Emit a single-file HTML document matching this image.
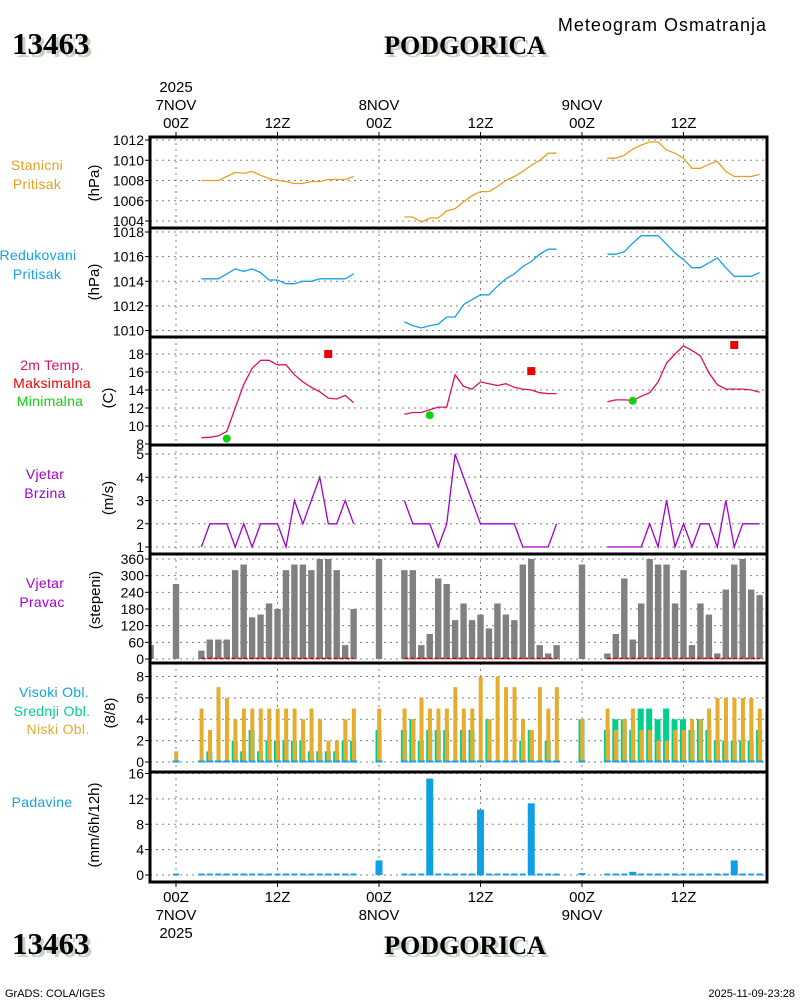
<!DOCTYPE html>
<html><head><meta charset="utf-8">
<style>
html,body{margin:0;padding:0;background:#fff;}
body{width:800px;height:1000px;overflow:hidden;position:relative;font-family:"Liberation Sans",sans-serif;}
svg{position:absolute;left:0;top:0;}
</style></head>
<body>
<svg id="chart" width="800" height="1000" viewBox="0 0 800 1000" xmlns="http://www.w3.org/2000/svg" font-family="Liberation Sans, sans-serif">
  <g>
    <text x="15" y="57" font-family="Liberation Serif, serif" font-weight="bold" font-size="31" fill="#c5d3c3">13463</text>
    <text x="12" y="54" font-family="Liberation Serif, serif" font-weight="bold" font-size="31" fill="#000">13463</text>
    <text x="468" y="57" text-anchor="middle" font-family="Liberation Serif, serif" font-weight="bold" font-size="26" fill="#c5d3c3">PODGORICA</text>
    <text x="465" y="54" text-anchor="middle" font-family="Liberation Serif, serif" font-weight="bold" font-size="26" fill="#000">PODGORICA</text>
    <text x="767" y="31" text-anchor="end" font-size="18" letter-spacing="1" fill="#000">Meteogram Osmatranja</text>
  </g>
  <g>
    <text x="15" y="957" font-family="Liberation Serif, serif" font-weight="bold" font-size="31" fill="#c5d3c3">13463</text>
    <text x="12" y="954" font-family="Liberation Serif, serif" font-weight="bold" font-size="31" fill="#000">13463</text>
    <text x="468" y="957" text-anchor="middle" font-family="Liberation Serif, serif" font-weight="bold" font-size="26" fill="#c5d3c3">PODGORICA</text>
    <text x="465" y="954" text-anchor="middle" font-family="Liberation Serif, serif" font-weight="bold" font-size="26" fill="#000">PODGORICA</text>
    <text x="5" y="997" font-size="11" fill="#000">GrADS: COLA/IGES</text>
    <text x="795" y="997" text-anchor="end" font-size="11" fill="#000">2025-11-09-23:28</text>
  </g>
  <g id="plots"></g>
</svg>
<script>
// ---- data ----
const obsHours = [3,4,5,6,7,8,9,10,11,12,13,14,15,16,17,18,19,20,21,
  27,28,29,30,31,32,33,34,35,36,37,38,39,40,41,42,43,44,45,
  51,52,53,54,55,56,57,58,59,60,61,62,63,64,65,66,67,68,69];
const stnPressure = [1008.0,1008.0,1008.0,1008.4,1008.8,1008.7,1008.9,1008.5,1008.2,1008.0,1007.9,1007.7,1007.7,1007.9,1007.9,1008.1,1008.1,1008.1,1008.4,
  1004.4,1004.4,1003.9,1004.3,1004.3,1005.0,1005.2,1005.9,1006.5,1006.9,1006.9,1007.4,1008.0,1008.4,1008.9,1009.5,1010.0,1010.7,1010.7,
  1010.2,1010.2,1010.5,1011.1,1011.5,1011.8,1011.8,1011.0,1010.7,1010.2,1009.2,1009.2,1009.6,1009.9,1008.9,1008.4,1008.4,1008.4,1008.6];
const redPressure = [1014.2,1014.2,1014.2,1014.6,1015.0,1014.8,1015.0,1014.7,1014.1,1014.1,1013.8,1013.8,1014.0,1014.0,1014.2,1014.2,1014.2,1014.2,1014.6,
  1010.7,1010.4,1010.2,1010.4,1010.5,1011.1,1011.1,1012.1,1012.5,1012.9,1012.9,1013.6,1014.2,1014.6,1015.2,1015.6,1016.2,1016.6,1016.6,
  1016.2,1016.2,1016.4,1017.1,1017.7,1017.7,1017.7,1017.0,1016.3,1015.75,1015.1,1015.1,1015.5,1015.9,1015.1,1014.4,1014.4,1014.4,1014.7];
const temp2m = [8.7,8.75,8.9,9.4,12.0,14.6,16.4,17.3,17.3,16.8,16.8,15.7,14.9,14.3,13.8,13.1,13.0,13.4,12.6,
  11.3,11.5,11.5,11.8,12.1,12.1,15.7,14.4,14.1,14.9,14.7,14.5,14.7,14.3,14.1,14.0,13.7,13.6,13.6,
  12.7,12.9,12.9,12.85,13.3,13.7,14.9,17.0,18.0,18.9,18.4,17.8,15.9,14.6,14.1,14.1,14.1,14.0,13.75];
const maxHours = [18, 42, 66];
const maxTemp = [18.0, 16.1, 19.0];
const minHours = [6, 30, 54];
const minTemp = [8.6, 11.2, 12.8];
const windSpeed = [1,2,2,2,1,2,1,2,2,2,1,3,2,3,4,2,2,3,2,
  3,2,2,2,1,2,5,4,3,2,2,2,2,2,1,1,1,1,2,
  1,1,1,1,1,2,1,3,1,2,1,2,2,1,3,1,2,2,2];
const windDir = [30,70,70,70,320,340,150,160,200,180,320,340,340,320,360,360,320,50,180,
  320,320,50,90,290,270,140,200,140,160,110,200,160,140,340,360,50,20,50,
  20,90,290,70,200,360,340,340,200,320,50,200,160,20,250,340,360,250,230];
const dirExtraHours = [-3,0,24,48];
const dirExtra = [50,270,360,340];
const lowCloud = [5,3,7,6,4,5,5,5,5,5,5,5,4,5,4,2,2,4,5,
  5,4,6,5,5,5,7,5,5,8,4,8,7,7,4,3,7,5,7,
  5,3,4,5,3,3,2,2,3,3,4,4,5,6,6,6,6,6,5];
const midCloud = [0,1,0,0,2,1,3,1,2,2,2,2,2,1,1,1,1,2,2,
  3,4,2,3,3,3,0,3,3,0,4,0,0,0,2,3,0,2,0,
  3,4,4,3,5,5,4,5,4,4,3,4,3,2,2,2,2,2,3];
const cloudExtraHours = [0,24,48];
const lowCloudExtra = [1,5,4];
const midCloudExtra = [0,3,4];
const precipHours = [24,30,36,42,48,54,66];
const precip = [2.3,15.2,10.3,11.3,0.3,0.5,2.3];
const pTicks1 = [1004,1006,1008,1010,1012];
const pTicks2 = [1010,1012,1014,1016,1018];
const tTicks = [8,10,12,14,16,18];
const wsTicks = [1,2,3,4,5];
const wdTicks = [0,60,120,180,240,300,360];
const clTicks = [0,2,4,6,8];
const prTicks = [0,4,8,12,16];
const gridHours = [0,12,24,36,48,60];

// ---- axes ----
const X0 = 150, X1 = 767;
function x(h){ return 176 + h*101.5/12; }
function lin(v0,y0,v1,y1){ return v => y0 + (v-v0)*(y1-y0)/(v1-v0); }
const panels = [
  {top:137,bot:228,y:lin(1012,140,1004,221),ticks:pTicks1,name:'station-pressure'},
  {top:228,bot:337,y:lin(1018,232,1010,330.5),ticks:pTicks2,name:'reduced-pressure'},
  {top:337,bot:445,y:lin(18,354,8,444),ticks:tTicks,name:'temperature'},
  {top:445,bot:554,y:lin(5,454,1,547),ticks:wsTicks,name:'wind-speed'},
  {top:554,bot:663,y:lin(360,559,0,659),ticks:wdTicks,name:'wind-direction'},
  {top:663,bot:772,y:lin(8,676.5,0,762),ticks:clTicks,name:'cloud-cover'},
  {top:772,bot:882,y:lin(16,773.5,0,875),ticks:prTicks,name:'precipitation'}
];
const NS='http://www.w3.org/2000/svg';
const root=document.getElementById('plots');
function mk(tag,attrs,parent){
  const e=document.createElementNS(NS,tag);
  for(const k in attrs) e.setAttribute(k,attrs[k]);
  (parent||root).appendChild(e); return e;
}
function txt(s,attrs,parent){ const e=mk('text',attrs,parent); e.textContent=s; return e; }

panels.forEach(p=>{
  const g=mk('g',{});
  
  
  p.g=g;
  gridHours.forEach(h=>{
    const l=mk('line',{x1:x(h),x2:x(h),y1:p.top,y2:p.bot,stroke:'#808080','stroke-width':1,'stroke-dasharray':'2,4'},g);
    
    
  });
  p.ticks.forEach(v=>{
    const yy=p.y(v);
    const l=mk('line',{x1:X0,x2:X1,y1:yy,y2:yy,stroke:'#808080','stroke-width':1,'stroke-dasharray':'2,4'},g);
    
    
    const tk=mk('line',{x1:X0-5,x2:X0,y1:yy,y2:yy,stroke:'#000','stroke-width':1},g);
    
    
    const t=txt(String(v),{x:X0-6,y:yy+5,'text-anchor':'end','font-size':14,fill:'#000'},g);
    
    
  });
});

function line(p,vals,color,name){
  let seg=[]; const segs=[];
  for(let i=0;i<obsHours.length;i++){
    if(i>0 && obsHours[i]-obsHours[i-1]>1){ segs.push(seg); seg=[]; }
    seg.push(x(obsHours[i]).toFixed(1)+','+p.y(vals[i]).toFixed(1));
  }
  segs.push(seg);
  segs.forEach(s=>{
    const pl=mk('polyline',{points:s.join(' '),fill:'none',stroke:color,'stroke-width':1.3},p.g);
    
    
  });
}
line(panels[0],stnPressure,'#e6a020','station-pressure-line');
line(panels[1],redPressure,'#16a0e6','reduced-pressure-line');
line(panels[2],temp2m,'#dc1060','temperature-line');
line(panels[3],windSpeed,'#a000d0','wind-speed-line');

maxHours.forEach((h,i)=>{
  const r=mk('rect',{x:x(h)-4,y:panels[2].y(maxTemp[i])-4,width:8,height:8,fill:'#ee0000'},panels[2].g);
  
  
});
minHours.forEach((h,i)=>{
  const c=mk('circle',{cx:x(h),cy:panels[2].y(minTemp[i]),r:4,fill:'#10d010'},panels[2].g);
  
  
});

const pd=panels[4];
function dirBar(h,v){
  const y0=pd.y(0), y1=pd.y(v);
  const r=mk('rect',{x:Math.max(X0,x(h)-3.2),y:y1,width:Math.min(6.4,x(h)+3.2-X0),height:y0-y1,fill:'#808080'},pd.g);
  
  
}
dirExtraHours.forEach((h,i)=>dirBar(h,dirExtra[i]));
obsHours.forEach((h,i)=>dirBar(h,windDir[i]));
[[3,21],[27,45],[51,69]].forEach(s=>{
  const l=mk('line',{x1:x(s[0]),x2:x(s[1]),y1:pd.y(0)-0.5,y2:pd.y(0)-0.5,stroke:'#cc0000','stroke-width':1.5,'stroke-dasharray':'4,2'},pd.g);
  
  
});

const pc=panels[5];
function cloudBar(h,lo,mi){
  const y0=pc.y(0);
  if(mi>0){
    const r=mk('rect',{x:x(h)-3.5,y:pc.y(mi),width:6,height:y0-pc.y(mi),fill:'#00d08c'},pc.g);
    
    
  }
  if(lo>0){
    const r=mk('rect',{x:x(h)-1.8,y:pc.y(lo),width:4,height:y0-pc.y(lo),fill:'#e6ac2e'},pc.g);
    
    
  }
  const hc=mk('rect',{x:x(h)-3.5,y:y0-1.5,width:7,height:2,fill:'#16a0e6'},pc.g);
  
  
}
cloudExtraHours.forEach((h,i)=>cloudBar(h,lowCloudExtra[i],midCloudExtra[i]));
obsHours.forEach((h,i)=>cloudBar(h,lowCloud[i],midCloud[i]));

const pp=panels[6];
[0].concat(obsHours).forEach(h=>{
  const r=mk('rect',{x:x(h)-3,y:pp.y(0)-1.5,width:6,height:2,fill:'#16a0e6'},pp.g);
  
  
});
precipHours.forEach((h,i)=>{
  const y0=pp.y(0), y1=pp.y(precip[i]);
  const r=mk('rect',{x:x(h)-3.5,y:y1,width:7,height:y0-y1,fill:'#10a0e6'},pp.g);
  
  
});

panels.forEach((p,i)=>{
  if(i>0){
    const l=mk('line',{x1:X0,x2:X1,y1:p.top,y2:p.top,stroke:'#000','stroke-width':3});
    
    
  }
});
const fr=mk('rect',{x:X0,y:137,width:X1-X0,height:882-137,fill:'none',stroke:'#000','stroke-width':3});



const topLabels=[[0,['2025','7NOV','00Z']],[12,['12Z']],[24,['8NOV','00Z']],[36,['12Z']],[48,['9NOV','00Z']],[60,['12Z']]];
topLabels.forEach(t=>{
  const n=t[1].length;
  t[1].forEach((s,j)=>{
    const e=txt(s,{x:x(t[0]),y:128-(n-1-j)*18,'text-anchor':'middle','font-size':15,fill:'#000'});
    
    
  });
  const tk=mk('line',{x1:x(t[0]),x2:x(t[0]),y1:132,y2:137,stroke:'#000','stroke-width':1});
  
  
});
const botLabels=[[0,['00Z','7NOV','2025']],[12,['12Z']],[24,['00Z','8NOV']],[36,['12Z']],[48,['00Z','9NOV']],[60,['12Z']]];
botLabels.forEach(t=>{
  t[1].forEach((s,j)=>{
    const e=txt(s,{x:x(t[0]),y:902+j*18,'text-anchor':'middle','font-size':15,fill:'#000'});
    
    
  });
  const tk=mk('line',{x1:x(t[0]),x2:x(t[0]),y1:882,y2:887,stroke:'#000','stroke-width':1});
  
  
});

const leftLabels=[
  ['Stanicni',37,170,'#e6a020'],['Pritisak',37,189,'#e6a020'],
  ['Redukovani',38,260,'#16a0e6'],['Pritisak',37,279,'#16a0e6'],
  ['2m Temp.',52,370,'#dc1060'],['Maksimalna',52,388,'#ee0000'],['Minimalna',50,406,'#10d010'],
  ['Vjetar',45,479,'#a000d0'],['Brzina',45,498,'#a000d0'],
  ['Vjetar',45,588,'#a000d0'],['Pravac',42,607,'#a000d0'],
  ['Visoki Obl.',54,697,'#16a0e6'],['Srednji Obl.',52,716,'#00d08c'],['Niski Obl.',58,734,'#e6ac2e'],
  ['Padavine',42,807,'#16a0e6']
];
leftLabels.forEach(l=>{
  const e=txt(l[0],{x:l[1],y:l[2],'text-anchor':'middle','font-size':14,fill:l[3],'letter-spacing':0.3});
  
  
});
const units=[['(hPa)',99,183],['(hPa)',99,282],['(C)',113,398],['(m/s)',113,498],['(stepeni)',100,600],['(8/8)',115,713],['(mm/6h/12h)',99,825]];
units.forEach(u=>{
  const e=txt(u[0],{x:u[1],y:u[2],'text-anchor':'middle','font-size':15,fill:'#000',transform:'rotate(-90 '+u[1]+' '+u[2]+')'});
  
  
});
</script>
</body></html>
